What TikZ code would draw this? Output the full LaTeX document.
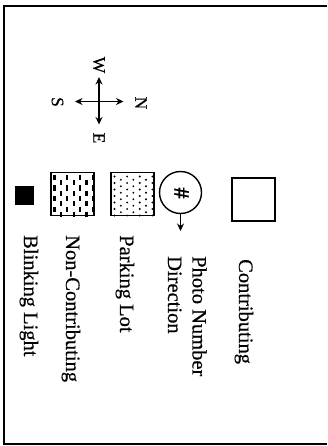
\documentclass[tikz,border=0pt]{standalone}
\usepackage{fontspec}
\setmainfont[FakeBold=0.5]{Liberation Serif}
\usetikzlibrary{arrows.meta}
\begin{document}
\begin{tikzpicture}[x=1pt,y=-1pt,
  lbl/.style={rotate=-90,anchor=base west,inner sep=0pt,font=\fontsize{20.5}{24}\selectfont},
  dirlbl/.style={rotate=-90,inner sep=0pt,font=\fontsize{17.5}{20}\selectfont},
  frameline/.style={line width=1.3pt},
  keybox/.style={draw,line width=1.4pt,minimum size=43pt,inner sep=0pt},
  tip/.style={-{Stealth[length=7.5pt,width=7pt]}},
  compassarrow/.style={line width=1.4pt,{Stealth[length=7.5pt,width=7pt]}-{Stealth[length=7.5pt,width=7pt]}},
  ]
\useasboundingbox (0,0) rectangle (327,446);
\fill[white] (0,0) rectangle (327,446);
% frame (open on the right)
\coordinate (ftr) at (327,6);
\coordinate (ftl) at (4,6);
\coordinate (fbl) at (4,444);
\coordinate (fbr) at (327,444);
\draw[frameline] (ftr) -- (ftl) -- (fbl) -- (fbr);

% compass
\coordinate (cW) at (99,77);
\coordinate (cE) at (99,124.5);
\coordinate (cS) at (75,101.5);
\coordinate (cN) at (123.5,101.5);
\draw[compassarrow] (cW) -- (cE);
\draw[compassarrow] (cS) -- (cN);
\node[dirlbl] (lW) at (99,65) {W};
\node[dirlbl] (lE) at (99,138) {E};
\node[dirlbl] (lS) at (57.5,102) {S};
\node[dirlbl] (lN) at (141,103) {N};

% key symbols
\node[keybox] (kcontrib) at (253.5,199.5) {};
\node[circle,draw,line width=1.4pt,minimum size=42pt,inner sep=0pt] (kphoto) at (180.5,192.5) {};
\node[rotate=-90,inner sep=0pt,font=\fontsize{22}{24}\selectfont\bfseries] (khash) at (181.5,193) {\#};
\coordinate (kphototip) at (180.5,231);
\draw[line width=1.4pt,tip] (kphoto) -- (kphototip);
\node[keybox] (kpark) at (132.5,194) {};
\node[keybox] (knon) at (72.5,194) {};
\node[draw,fill=black,minimum size=18pt,inner sep=0pt] (kblink) at (24.5,195) {};

% parking dots
\begin{scope}
  \clip (kpark.south west) rectangle (kpark.north east);
  \foreach \i in {0,...,6} {
    \foreach \j in {0,...,6} {
      \pgfmathsetmacro\yy{176.5+6.5*\j+mod(\i,2)*3.25}
      \fill (114.5+6.3*\i,\yy) circle (1.05);
    }
  }
\end{scope}
% non-contributing dashes
\begin{scope}
  \clip (knon.south west) rectangle (knon.north east);
  \foreach \i in {0,...,6} {
    \foreach \j in {0,...,4} {
      \pgfmathsetmacro\yy{175+10.5*\j+mod(\i,2)*5.25}
      \draw[line width=2.2pt] (54.5+6.4*\i,\yy) -- ++(0,5);
    }
  }
\end{scope}

% labels
\node[lbl] (tcontrib) at (239,259) {Contributing};
\node[lbl] (tphoto1) at (192.5,256) {Photo Number};
\node[lbl] (tphoto2) at (168,256) {Direction};
\node[lbl] (tpark) at (120,235) {Parking Lot};
\node[lbl] (tnon) at (66,235) {Non-Contributing};
\node[lbl] (tblink) at (24,235) {Blinking Light};
\end{tikzpicture}
\end{document}
